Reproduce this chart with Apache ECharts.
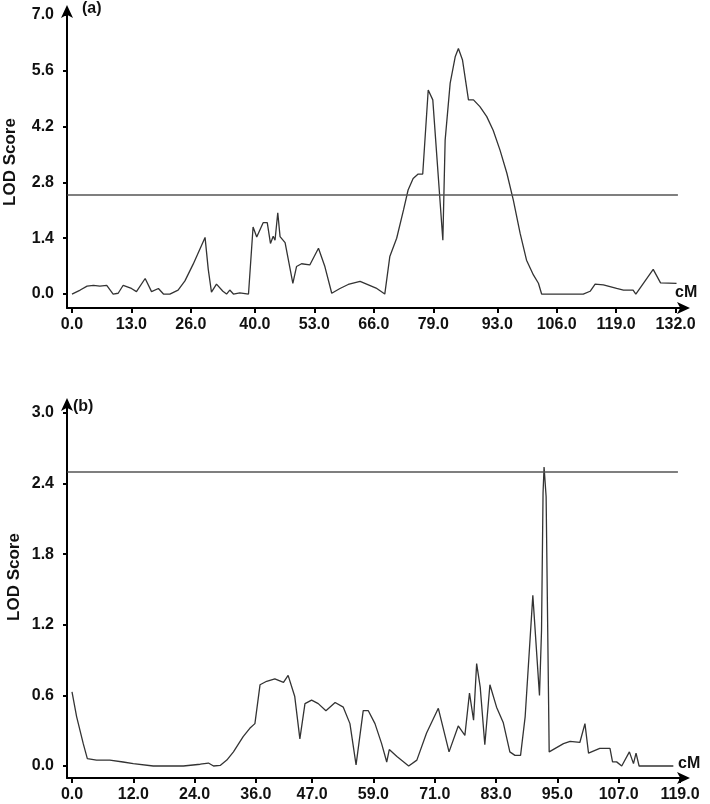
<!DOCTYPE html>
<html>
<head>
<meta charset="utf-8">
<script src="https://cdn.jsdelivr.net/npm/echarts@6/dist/echarts.min.js"></script>
<style>
  html, body { margin: 0; padding: 0; background: #fff; }
  #chart { width: 710px; height: 804px; }
</style>
</head>
<body>
<div id="chart"></div>
<script>
// LOD profiles, two panels.
const THRESHOLD = 2.5;

// panel (a)
const ticksXA = [0, 13, 26, 40, 53, 66, 79, 93, 106, 119, 132];
const ticksYA = [0, 1.4, 2.8, 4.2, 5.6, 7.0];
const cmA = [0, 1.8, 3.3, 4.7, 6.1, 7.6, 9.0, 10.1, 11.2, 13.0,
  14.1, 16.0, 17.4, 18.9, 20.0, 21.4, 23.2, 24.7, 26.5, 29.1,
  29.8, 30.5, 31.6, 33.0, 33.8, 34.5, 35.3, 36.7, 38.6, 39.6,
  40.4, 41.8, 42.7, 43.4, 44.0, 44.4, 45.0, 45.5, 46.6, 48.3,
  49.1, 50.2, 52.0, 53.9, 55.3, 56.8, 58.6, 60.4, 63.0, 66.5,
  68.4, 69.5, 71.0, 72.5, 73.5, 74.6, 75.7, 76.7, 77.9, 78.9,
  81.1, 81.6, 82.7, 83.8, 84.5, 85.4, 86.7, 87.8, 89.2, 90.7,
  92.1, 93.6, 95.1, 96.5, 98.0, 99.4, 100.9, 102.0, 102.7, 106.0,
  111.8, 113.3, 114.4, 116.2, 119.1, 120.6, 122.7, 123.3, 127.1, 128.7,
  132.2];
const lodA = [0, 0.10, 0.20, 0.22, 0.20, 0.22, 0.0, 0.02, 0.22, 0.14,
  0.06, 0.39, 0.06, 0.14, 0.0, 0.0, 0.10, 0.33, 0.75, 1.42,
  0.62, 0.05, 0.25, 0.07, 0.0, 0.10, 0.0, 0.03, 0.0, 1.68,
  1.43, 1.79, 1.79, 1.27, 1.45, 1.35, 2.04, 1.44, 1.29, 0.27,
  0.69, 0.76, 0.73, 1.15, 0.69, 0.02, 0.14, 0.24, 0.32, 0.15,
  0.0, 0.94, 1.40, 2.11, 2.61, 2.90, 3.01, 3.01, 5.12, 4.87,
  1.35, 3.86, 5.29, 5.95, 6.16, 5.87, 4.87, 4.87, 4.70, 4.45,
  4.11, 3.61, 3.03, 2.36, 1.52, 0.85, 0.48, 0.27, 0.0, 0.0,
  0.0, 0.07, 0.25, 0.23, 0.14, 0.10, 0.10, 0.0, 0.62, 0.28,
  0.27];

// panel (b)
const ticksXB = [0, 12, 24, 36, 47, 59, 71, 83, 95, 107, 119];
const ticksYB = [0, 0.6, 1.2, 1.8, 2.4, 3.0];
const cmB = [0, 0.9, 2.2, 3.0, 4.8, 7.4, 10.0, 12.0, 15.9, 21.8,
  25.1, 26.7, 27.7, 29.0, 30.3, 31.6, 33.5, 34.8, 35.8, 36.8,
  38.1, 39.7, 41.4, 42.3, 43.6, 44.6, 45.6, 46.9, 48.2, 49.7,
  51.5, 53.1, 54.4, 55.6, 57.0, 58.0, 59.3, 60.6, 61.6, 62.1,
  63.6, 65.9, 67.5, 69.4, 71.7, 73.8, 75.6, 76.9, 77.8, 78.6,
  79.2, 79.9, 80.8, 81.8, 83.1, 84.4, 85.7, 86.7, 87.8, 88.7,
  90.2, 91.5, 91.9, 92.2, 92.4, 92.8, 93.4, 96.2, 97.5, 99.4,
  100.4, 101.1, 103.3, 105.3, 105.8, 106.6, 107.6, 109.1, 109.9, 110.4,
  111.0, 113.1, 117.7];
const lodB = [0.63, 0.42, 0.19, 0.063, 0.05, 0.05, 0.034, 0.02, 0.0, 0.0,
  0.015, 0.025, 0.0, 0.005, 0.05, 0.12, 0.25, 0.32, 0.36, 0.69,
  0.72, 0.74, 0.71, 0.77, 0.59, 0.23, 0.53, 0.56, 0.53, 0.47,
  0.54, 0.50, 0.36, 0.01, 0.47, 0.47, 0.36, 0.19, 0.034, 0.14,
  0.08, 0.0, 0.05, 0.28, 0.49, 0.12, 0.34, 0.26, 0.62, 0.39,
  0.87, 0.67, 0.18, 0.69, 0.50, 0.37, 0.12, 0.09, 0.09, 0.42,
  1.45, 0.60, 1.15, 2.32, 2.54, 2.29, 0.12, 0.19, 0.21, 0.2,
  0.36, 0.11, 0.15, 0.15, 0.035, 0.035, 0.0, 0.12, 0.02, 0.11,
  0.0, 0.0, 0.0];

const FONT = '"Liberation Sans", Arial, sans-serif';
const zip = (xs, ys) => xs.map((x, i) => [x, ys[i]]);
const fmt = v => (+v).toFixed(1);

function xAx(grid, min, max, ticks) {
  return { type: 'value', gridIndex: grid, min, max, position: 'bottom',
    axisLine: { onZero: false, lineStyle: { color: '#000', width: 2 },
      symbol: ['none', 'arrow'], symbolSize: [9, 13], symbolOffset: [0, 4] },
    axisTick: { customValues: ticks, length: 5, lineStyle: { color: '#000', width: 2 } },
    axisLabel: { customValues: ticks, formatter: fmt, margin: 9,
      color: '#111', fontFamily: FONT, fontWeight: 'bold', fontSize: 16 },
    splitLine: { show: false } };
}
function yAx(grid, min, max, ticks) {
  return { type: 'value', gridIndex: grid, min, max,
    axisLine: { onZero: false, lineStyle: { color: '#000', width: 2 },
      symbol: ['none', 'arrow'], symbolSize: [9, 13], symbolOffset: [0, 4] },
    axisTick: { show: true, customValues: ticks, length: 4, lineStyle: { color: '#000', width: 2 } },
    axisLabel: { customValues: ticks, formatter: fmt, margin: 13,
      color: '#111', fontFamily: FONT, fontWeight: 'bold', fontSize: 16 },
    splitLine: { show: false } };
}
function lodSeries(i, data, lineStart, lineEnd) {
  return { type: 'line', xAxisIndex: i, yAxisIndex: i, data, symbol: 'none',
    lineStyle: { color: '#333', width: 1.3 }, silent: true,
    markLine: { symbol: 'none', silent: true, label: { show: false },
      lineStyle: { color: '#555', width: 1.6, type: 'solid' },
      data: [[{ coord: [lineStart, THRESHOLD] }, { coord: [lineEnd, THRESHOLD] }]] } };
}
const txt = (left, top, text, size) => ({ type: 'text', left, top,
  style: { text, fill: '#111', font: `bold ${size}px ${FONT}` } });

const chart = echarts.init(document.getElementById('chart'), null, { renderer: 'canvas' });
chart.setOption({
  animation: false,
  backgroundColor: '#fff',
  grid: [
    { left: 67, right: 24, top: 9, height: 299 },
    { left: 67, right: 24, top: 402, height: 376 }
  ],
  xAxis: [xAx(0, -1.09, 134.27, ticksXA), xAx(1, -0.98, 120.18, ticksXB)],
  yAxis: [yAx(0, -0.35, 7.15, ticksYA), yAx(1, -0.102, 3.093, ticksYB)],
  series: [lodSeries(0, zip(cmA, lodA), -1.0, 132.5), lodSeries(1, zip(cmB, lodB), -0.9, 118.6)],
  graphic: [
    txt(82, 1, '(a)', 16),
    txt(73, 399, '(b)', 16),
    txt(675, 285, 'cM', 16),
    txt(678, 756, 'cM', 16),
    { type: 'text', x: 10, y: 162, rotation: Math.PI / 2,
      style: { text: 'LOD Score', fill: '#111', font: `bold 17px ${FONT}`, align: 'center', verticalAlign: 'middle' } },
    { type: 'text', x: 14, y: 577, rotation: Math.PI / 2,
      style: { text: 'LOD Score', fill: '#111', font: `bold 17px ${FONT}`, align: 'center', verticalAlign: 'middle' } }
  ]
});
</script>
</body>
</html>
